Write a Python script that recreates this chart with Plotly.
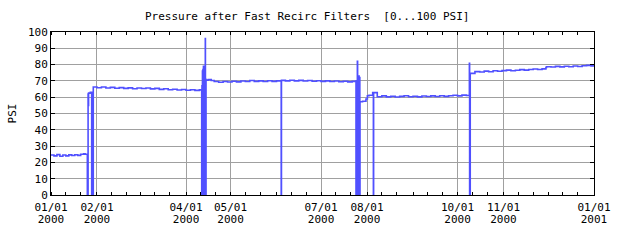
import plotly.graph_objects as go

# ---- data ----
seg_jan_t = ["2000-01-01 00:00", "2000-01-03", "2000-01-05", "2000-01-07", "2000-01-09", "2000-01-11",
             "2000-01-13", "2000-01-15", "2000-01-17", "2000-01-19", "2000-01-21", "2000-01-23",
             "2000-01-24", "2000-01-25 12:00", "2000-01-26 00:00", "2000-01-26 04:00",
             "2000-01-26 08:00", "2000-01-27 12:00", "2000-01-28 10:00", "2000-01-29 12:00"]
seg_jan_v = [24.5, 24.0, 24.8, 23.8, 24.5, 24.0, 24.6, 24.2, 24.7, 24.3, 25.0, 25.3,
             25.0, 0, 62.0, 55.0, 62.5, 63.0, 0, 66.3]

seg_feb_t = ["2000-02-01", "2000-02-04", "2000-02-07", "2000-02-10", "2000-02-13", "2000-02-16",
             "2000-02-19", "2000-02-22", "2000-02-25", "2000-02-28", "2000-03-02", "2000-03-05",
             "2000-03-08", "2000-03-11", "2000-03-14", "2000-03-17", "2000-03-20", "2000-03-23",
             "2000-03-26", "2000-03-29", "2000-04-01", "2000-04-04", "2000-04-07", "2000-04-10"]
seg_feb_v = [65.8, 66.3, 65.6, 66.0, 65.5, 65.9, 65.4, 65.7, 65.2, 65.6, 65.3, 65.6,
             65.1, 65.4, 64.8, 65.2, 64.6, 64.9, 64.4, 64.7, 64.3, 64.6, 64.2, 64.5]

seg_apr_t = ["2000-04-11 12:00", "2000-04-11 14:00", "2000-04-11 18:00", "2000-04-11 22:00",
             "2000-04-12 02:00", "2000-04-12 06:00", "2000-04-12 10:00", "2000-04-12 14:00",
             "2000-04-12 18:00", "2000-04-12 22:00", "2000-04-13 02:00", "2000-04-13 06:00",
             "2000-04-13 10:00", "2000-04-13 14:00", "2000-04-13 18:00", "2000-04-13 22:00",
             "2000-04-14 00:00", "2000-04-14 02:00", "2000-04-14 06:00", "2000-04-14 10:00",
             "2000-04-14 12:00"]
seg_apr_v = [64.4, 0, 67, 0, 76, 0, 77, 0, 79, 0, 78, 0, 75, 0, 73, 0, 96, 0, 71, 0, 70.5]

seg_may_t = ["2000-04-16", "2000-04-18", "2000-04-20", "2000-04-23", "2000-04-26", "2000-04-29",
             "2000-05-02", "2000-05-05", "2000-05-08", "2000-05-11", "2000-05-14", "2000-05-17",
             "2000-05-20", "2000-05-23", "2000-05-26", "2000-05-29", "2000-06-01",
             "2000-06-04 04:00", "2000-06-04 08:00", "2000-06-07", "2000-06-10", "2000-06-13",
             "2000-06-16", "2000-06-19", "2000-06-22", "2000-06-25", "2000-06-28", "2000-07-01",
             "2000-07-04", "2000-07-07", "2000-07-10", "2000-07-13", "2000-07-16", "2000-07-19",
             "2000-07-22"]
seg_may_v = [70.8, 70.2, 69.6, 69.2, 69.6, 69.3, 69.8, 69.4, 69.9, 69.6, 70.2, 69.7,
             70.0, 69.6, 70.1, 69.7, 70.0, 0, 70.3, 70.0, 70.4, 70.0,
             70.3, 69.9, 70.2, 69.8, 70.1, 69.7, 70.0, 69.6, 69.9, 69.5, 69.8, 69.4, 69.7]

seg_jul_t = ["2000-07-24 14:00", "2000-07-24 18:00", "2000-07-24 22:00", "2000-07-25 02:00",
             "2000-07-25 06:00", "2000-07-25 12:00", "2000-07-25 16:00", "2000-07-25 22:00",
             "2000-07-26 04:00", "2000-07-26 10:00", "2000-07-26 16:00", "2000-07-26 22:00",
             "2000-07-27 04:00", "2000-07-27 07:00", "2000-07-29", "2000-07-31 07:00",
             "2000-08-01 06:00", "2000-08-02 08:00", "2000-08-04 20:00", "2000-08-05 07:00",
             "2000-08-05 11:00", "2000-08-07 22:00"]
seg_jul_v = [0, 70, 0, 69, 0, 82, 0, 73, 0, 73, 0, 72, 0, 57.2, 57.5, 58.9,
             60.9, 61.2, 62.8, 0, 62.8, 60.3]

seg_aug_t = ["2000-08-11", "2000-08-14", "2000-08-17", "2000-08-20", "2000-08-23", "2000-08-26",
             "2000-08-29", "2000-09-01", "2000-09-04", "2000-09-07", "2000-09-10", "2000-09-13",
             "2000-09-16", "2000-09-19", "2000-09-22", "2000-09-25", "2000-09-28", "2000-10-01",
             "2000-10-04", "2000-10-07", "2000-10-09 00:00", "2000-10-09 04:00", "2000-10-09 14:00"]
seg_aug_v = [60.8, 60.2, 60.6, 60.1, 60.5, 60.9, 60.3, 60.6, 60.2, 60.7, 60.4, 60.8,
             60.4, 60.9, 60.5, 60.9, 61.2, 60.8, 61.3, 61.0, 80.8, 0, 74.6]

seg_oct_t = ["2000-10-12 18:00", "2000-10-16", "2000-10-19", "2000-10-22", "2000-10-25", "2000-10-28",
             "2000-10-31", "2000-11-03", "2000-11-06", "2000-11-09", "2000-11-12", "2000-11-15",
             "2000-11-18", "2000-11-21", "2000-11-24", "2000-11-27", "2000-11-29 14:00",
             "2000-11-30", "2000-12-03", "2000-12-06", "2000-12-09", "2000-12-12", "2000-12-15",
             "2000-12-18", "2000-12-21", "2000-12-24", "2000-12-27", "2000-12-30", "2000-12-31 23:00"]
seg_oct_v = [75.7, 75.5, 76.0, 75.6, 76.2, 75.9, 76.3, 76.6, 76.2, 76.5, 76.9, 76.6,
             77.0, 77.3, 77.0, 77.4, 78.2, 78.7, 78.5, 78.9, 78.6, 79.0, 78.7,
             79.1, 78.8, 79.3, 79.5, 79.2, 79.4]

major_ticks = ["2000-01-01", "2000-02-01", "2000-04-01", "2000-05-01", "2000-07-01",
               "2000-08-01", "2000-10-01", "2000-11-01", "2001-01-01"]
month_labels = ["01/01", "02/01", "04/01", "05/01", "07/01", "08/01", "10/01", "11/01", "01/01"]
year_labels = ["2000", "2000", "2000", "2000", "2000", "2000", "2000", "2000", "2001"]
minor_ticks = [f"2000-{m:02d}-{d:02d}" for m in range(1, 13) for d in (1, 11, 21)] + ["2001-01-01"]

times = seg_jan_t + seg_feb_t + seg_apr_t + seg_may_t + seg_jul_t + seg_aug_t + seg_oct_t
psi = seg_jan_v + seg_feb_v + seg_apr_v + seg_may_v + seg_jul_v + seg_aug_v + seg_oct_v

FONT = "DejaVu Sans Mono"
BLUE = "#5050ff"
GRID = "#a0a0a0"
xr = ["2000-01-01", "2001-01-01"]

fig = go.Figure()
fig.add_trace(go.Scatter(x=times, y=psi, mode="lines", line=dict(color=BLUE, width=1.6, shape="hv"),
                         hoverinfo="skip"))
# empty carrier trace so the year-label axis is drawn
fig.add_trace(go.Scatter(x=major_ticks, y=[None] * len(major_ticks), xaxis="x2", mode="lines",
                         hoverinfo="skip", showlegend=False))

fig.update_layout(
    width=640, height=240,
    margin=dict(l=51, r=46, t=32, b=45),
    paper_bgcolor="white", plot_bgcolor="white",
    showlegend=False,
    font=dict(family=FONT, size=11, color="black"),
    title=dict(text="Pressure after Fast Recirc Filters  [0...100 PSI]", x=0.48, xanchor="center",
               y=1 - 16 / 240, yanchor="middle", yref="container",
               font=dict(family=FONT, size=11, color="black")),
    xaxis=dict(type="date", range=xr, tickvals=major_ticks, ticktext=month_labels,
               showgrid=True, gridcolor=GRID, gridwidth=1, showline=True, linecolor="black",
               linewidth=1, mirror="ticks", ticks="", zeroline=False, ticklabelstandoff=2,
               tickfont=dict(family=FONT, size=11),
               minor=dict(tickmode="array", tickvals=minor_ticks, ticks="inside", ticklen=3,
                          tickcolor="black", showgrid=False)),
    xaxis2=dict(type="date", range=xr, overlaying="x", anchor="y", side="bottom",
                tickvals=major_ticks, ticktext=year_labels, ticks="", showgrid=False,
                showline=False, zeroline=False, ticklabelstandoff=16,
                tickfont=dict(family=FONT, size=11)),
    yaxis=dict(range=[0, 100], tick0=0, dtick=10, showgrid=True, gridcolor=GRID, gridwidth=1,
               showline=True, linecolor="black", linewidth=1, mirror="ticks", ticks="inside",
               ticklen=4, tickcolor="black", zeroline=False,
               tickfont=dict(family=FONT, size=11),
               title=dict(text="PSI", standoff=9, font=dict(family=FONT, size=11))),
)

fig.write_html("out.html")
